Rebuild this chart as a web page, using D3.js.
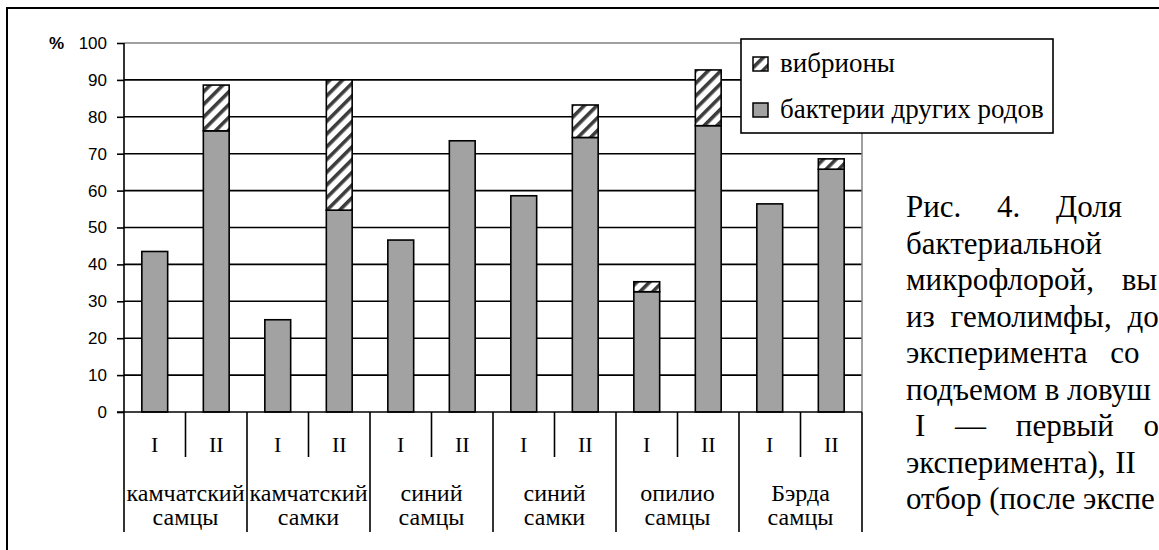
<!DOCTYPE html>
<html><head><meta charset="utf-8">
<script src="https://cdn.jsdelivr.net/npm/d3@7"></script>
<style>body{margin:0;background:#fff;overflow:hidden}</style>
</head><body><svg id="c" width="1159" height="550"></svg>
<script>
// ---- data ----
const species = ["камчатский","камчатский","синий","синий","опилио","Бэрда"];
const sexes = ["самцы","самки","самцы","самки","самцы","самцы"];
const samplings = ["I","II"];
const otherBacteria = [43.5,76.2, 25.0,54.7, 46.6,73.5, 58.6,74.4, 32.6,77.6, 56.4,65.8];
const vibrios = [0,12.4, 0,35.3, 0,0, 0,8.8, 2.7,15.1, 0,2.8];
const yTicks = [0,10,20,30,40,50,60,70,80,90,100];
const yUnit = "%";
const legendLabels = ["вибрионы","бактерии других родов"];
const captionLines = ["Рис. 4. Доля","бактериальной","микрофлорой, вы","из гемолимфы, до","эксперимента со","подъемом в ловуш","I — первый о","эксперимента), II","отбор (после экспе"];
const captionSpacing = [28,0,20,8,15,0,22,2,0];

// ---- layout ----
const SERIF = "'Liberation Serif', 'Times New Roman', serif";
const SANS = "'Liberation Sans', Arial, sans-serif";
const svg = d3.select("#c");
const L = 124, R = 862, Y0 = 412, Y100 = 43, T1 = 457, T2 = 532;
const groups = species.map((s,i)=>i);
const bars = [];
groups.forEach(g => samplings.forEach((s,j) => bars.push({g, s, key:g+"-"+s})));
bars.forEach((b,i)=>{ b.other = otherBacteria[i]; b.vib = vibrios[i]; });

const x = d3.scaleBand().domain(bars.map(b=>b.key)).range([L,R]).padding(0);
const xg = d3.scaleBand().domain(groups).range([L,R]).padding(0);
const y = d3.scaleLinear().domain([0,100]).range([Y0,Y100]);
const bw = x.bandwidth()*0.42;

const defs = svg.append("defs");
const pat = defs.append("pattern").attr("id","hatch").attr("patternUnits","userSpaceOnUse")
  .attr("width",9).attr("height",9).attr("patternTransform","rotate(45)");
pat.append("rect").attr("width",9).attr("height",9).attr("fill","#fff");
pat.append("rect").attr("x",0).attr("width",3.6).attr("height",9).attr("fill","#3c3c3c");

// gridlines
svg.append("g").selectAll("line").data(yTicks.filter(t=>t>0)).join("line")
  .attr("x1",L).attr("x2",R).attr("y1",d=>y(d)).attr("y2",d=>y(d))
  .attr("stroke",d=>d===100?"#808080":"#000").attr("stroke-width",d=>d===100?1.5:1.6);
svg.append("line").attr("x1",R).attr("x2",R).attr("y1",Y100).attr("y2",Y0).attr("stroke","#808080").attr("stroke-width",1.5);

// stacked bars
const stack = d3.stack().keys(["other","vib"])(bars);
const fills = {other:"#a2a2a2", vib:"url(#hatch)"};
stack.forEach(layer => {
  svg.append("g").selectAll("rect").data(layer.filter(d=>d[1]-d[0]>0)).join("rect")
    .attr("x",d=>x(d.data.key)+(x.bandwidth()-bw)/2).attr("width",bw)
    .attr("y",d=>y(d[1])).attr("height",d=>y(d[0])-y(d[1]))
    .attr("fill",fills[layer.key]).attr("stroke","#000").attr("stroke-width",1.6);
});

// y axis
const ya = svg.append("g").attr("transform",`translate(${L},0)`)
  .call(d3.axisLeft(y).tickValues(yTicks).tickSize(7).tickPadding(10));
ya.select(".domain").remove();
ya.selectAll(".tick line").attr("stroke","#000").attr("stroke-width",1.6);
ya.selectAll(".tick text").attr("font-family",SANS).attr("font-size",17).attr("fill","#000");
svg.append("text").attr("x",64).attr("y",y(100)).attr("dy","0.35em").attr("text-anchor","end")
  .attr("font-family",SANS).attr("font-weight","bold").attr("font-size",17).text(yUnit);
svg.append("line").attr("x1",L).attr("x2",L).attr("y1",Y100).attr("y2",T2).attr("stroke","#000").attr("stroke-width",1.6);
svg.append("line").attr("x1",L-7).attr("x2",R).attr("y1",Y0).attr("y2",Y0).attr("stroke","#000").attr("stroke-width",1.6);

// category table
const tbl = svg.append("g");
bars.forEach((b,i)=>{
  if(i===0) return;
  const xx = x(b.key);
  tbl.append("line").attr("x1",xx).attr("x2",xx).attr("y1",Y0).attr("y2", i%2===1?T1:T2)
    .attr("stroke","#000").attr("stroke-width",1.6);
});
tbl.append("line").attr("x1",R).attr("x2",R).attr("y1",Y0).attr("y2",T2).attr("stroke","#000").attr("stroke-width",1.6);
tbl.selectAll("text.s").data(bars).join("text").attr("class","s")
  .attr("x",d=>x(d.key)+x.bandwidth()/2).attr("y",452).attr("text-anchor","middle")
  .attr("font-family",SERIF).attr("font-size",22).text(d=>d.s);
tbl.selectAll("text.sp").data(groups).join("text").attr("class","sp")
  .attr("x",d=>xg(d)+xg.bandwidth()/2).attr("y",501).attr("text-anchor","middle")
  .attr("font-family",SERIF).attr("font-size",24).text(d=>species[d]);
tbl.selectAll("text.sx").data(groups).join("text").attr("class","sx")
  .attr("x",d=>xg(d)+xg.bandwidth()/2).attr("y",525).attr("text-anchor","middle")
  .attr("font-family",SERIF).attr("font-size",24).text(d=>sexes[d]);

// legend
const lg = svg.append("g").attr("transform","translate(741,39)");
lg.append("rect").attr("width",312).attr("height",94).attr("fill","#fff").attr("stroke","#000").attr("stroke-width",1.6);
const lgFill = ["url(#hatch)","#a2a2a2"];
legendLabels.forEach((t,i)=>{
  const cy = 25 + i*46;
  lg.append("rect").attr("x",12).attr("y",cy-7).attr("width",15).attr("height",14)
    .attr("fill",lgFill[i]).attr("stroke","#000").attr("stroke-width",1.5);
  lg.append("text").attr("x",39).attr("y",cy+8).attr("font-family",SERIF)
    .attr("font-size",27).text(t);
});

// caption
const cap = svg.append("g").attr("font-family",SERIF).attr("font-size",31);
captionLines.forEach((t,i)=>{
  cap.append("text").attr("x", i===6?915:906).attr("y",217+i*36.5)
    .attr("word-spacing",captionSpacing[i]).text(t);
});

// outer frame
svg.append("rect").attr("x",7).attr("y",8).attr("width",1200).attr("height",600)
  .attr("fill","none").attr("stroke","#000").attr("stroke-width",2);
</script></body></html>
